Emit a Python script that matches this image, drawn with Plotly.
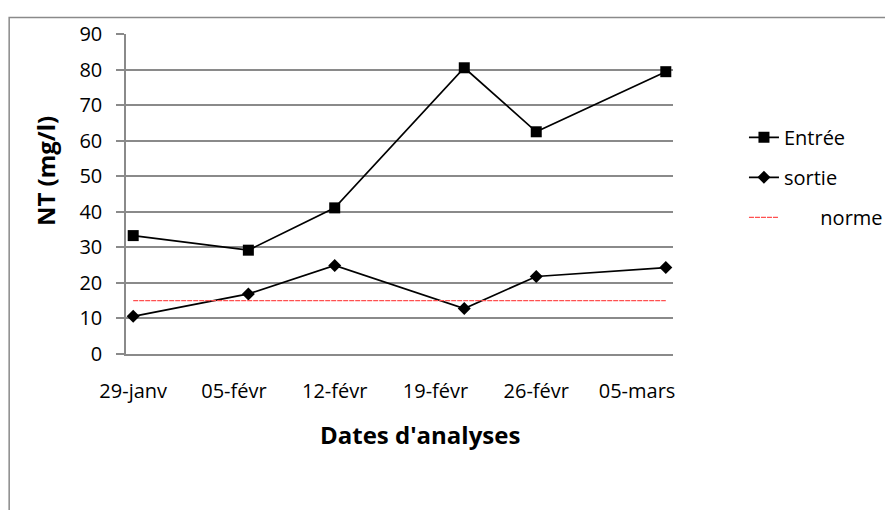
import plotly.graph_objects as go

dates = ["2013-01-29", "2013-02-06", "2013-02-12", "2013-02-21", "2013-02-26", "2013-03-07"]
entree = [33.3, 29.2, 41.1, 80.5, 62.5, 79.4]
sortie = [10.6, 16.9, 24.9, 12.8, 21.8, 24.3]
norme = [15, 15, 15, 15, 15, 15]

tick_dates = ["2013-01-29", "2013-02-05", "2013-02-12", "2013-02-19", "2013-02-26", "2013-03-05"]
tick_labels = ["29-janv", "05-févr", "12-févr", "19-févr", "26-févr", "05-mars"]
y_ticks = [0, 10, 20, 30, 40, 50, 60, 70, 80, 90]

FONT = "Open Sans"
GRID = "#8a8a8a"

# plot area in figure pixels (page has an 8px body margin)
L, R, T, B = 117.7, 665.0, 19.3, 346.3
W, H = R - L, B - T


def px(x):
    return (x - L) / W


def py(y):
    return (B - y) / H


fig = go.Figure()
fig.add_trace(go.Scatter(
    x=dates, y=entree, name="Entrée", mode="lines+markers", legendgroup="a",
    line=dict(color="black", width=1.7),
    marker=dict(symbol="square", size=11, color="black"),
))
fig.add_trace(go.Scatter(
    x=dates, y=sortie, name="sortie", mode="lines+markers", legendgroup="b",
    line=dict(color="black", width=1.7),
    marker=dict(symbol="diamond", size=10, color="black"),
))
fig.add_trace(go.Scatter(
    x=dates, y=norme, name="\u00a0" * 7 + "norme", mode="lines", legendgroup="c",
    line=dict(color="#ff5050", width=1.3, dash="5px,1px"),
))

fig.update_layout(
    width=893, height=510,
    margin=dict(l=L, r=893 - R, t=T, b=510 - B),
    paper_bgcolor="white", plot_bgcolor="white",
    font=dict(family=FONT, size=20, color="black"),
    showlegend=True,
    legend=dict(
        x=px(736), xanchor="left", y=py(105), yanchor="top",
        font=dict(family=FONT, size=20, color="black"),
        traceorder="grouped", tracegroupgap=11,
        bgcolor="rgba(0,0,0,0)",
    ),
    xaxis=dict(
        type="date",
        range=["2013-01-28 12:00", "2013-03-07 12:00"],
        tickmode="array", tickvals=tick_dates, ticktext=tick_labels,
        showgrid=False, zeroline=False,
        showline=True, linecolor=GRID, linewidth=1.5,
        ticks="", ticklabelstandoff=18,
        tickfont=dict(family=FONT, size=20, color="black"),
    ),
    yaxis=dict(
        range=[0, 90], tickmode="array", tickvals=y_ticks,
        showgrid=True, gridcolor=GRID, gridwidth=1.5,
        zeroline=False,
        showline=True, linecolor=GRID, linewidth=1.5,
        ticks="outside", ticklen=8, tickcolor=GRID, tickwidth=1.5,
        ticklabelstandoff=10,
        tickfont=dict(family=FONT, size=20, color="black"),
    ),
    annotations=[
        dict(text="<b>NT (mg/l)</b>", xref="paper", yref="paper",
             x=px(37), y=py(159), textangle=-90,
             showarrow=False, font=dict(family=FONT, size=24, color="black"),
             xanchor="center", yanchor="middle"),
        dict(text="<b>Dates d'analyses</b>", xref="paper", yref="paper",
             x=px(412), y=py(429),
             showarrow=False, font=dict(family=FONT, size=24, color="black"),
             xanchor="center", yanchor="middle"),
    ],
    shapes=[
        dict(type="rect", xref="paper", yref="paper",
             x0=px(0.8), x1=px(883.2), y0=py(530), y1=py(2.5),
             line=dict(color=GRID, width=1.5), fillcolor="rgba(0,0,0,0)",
             layer="below"),
    ],
)

fig.write_html("out.html")
